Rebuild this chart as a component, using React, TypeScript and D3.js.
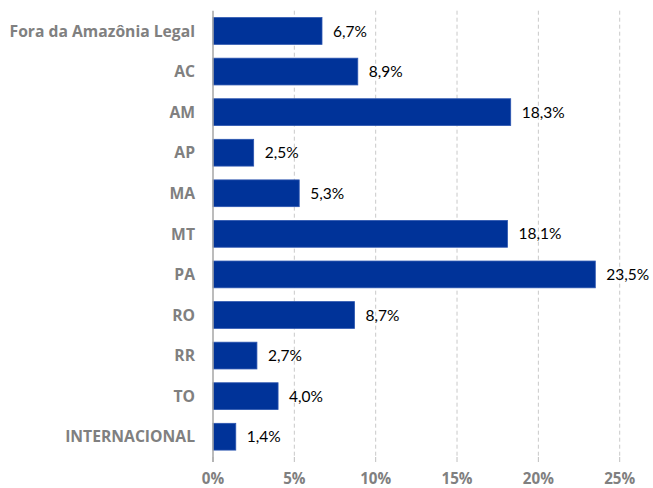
import React from "react";
import * as d3 from "d3";

const categories = ["Fora da Amazônia Legal", "AC", "AM", "AP", "MA", "MT", "PA", "RO", "RR", "TO", "INTERNACIONAL"];
const values = [6.7, 8.9, 18.3, 2.5, 5.3, 18.1, 23.5, 8.7, 2.7, 4.0, 1.4];
const ticks = [0, 5, 10, 15, 20, 25];

const W = 653, H = 488;
const left = 213, right = 619.7, top = 10.7, bottom = 457;

export default function App() {
  const x = d3.scaleLinear().domain([0, 25]).range([left, right]);
  const y = d3.scaleBand().domain(categories).range([top, bottom]).paddingInner(0.34).paddingOuter(0.17);
  const fmt = (v: number) => v.toFixed(1).replace(".", ",") + "%";
  const font = "Lato, 'Open Sans', sans-serif";
  const bfont = "'Open Sans', Lato, sans-serif";
  return (
    <svg width={W} height={H} style={{ position: "absolute", left: 0, top: 0, background: "#fff" }}>
      {ticks.slice(1).map((t) => (
        <line key={t} x1={x(t)} x2={x(t)} y1={top} y2={bottom} stroke="#c9c9c9" strokeWidth={1} strokeDasharray="4,3" />
      ))}
      {ticks.map((t) => (
        <line key={"tk" + t} x1={x(t)} x2={x(t)} y1={bottom} y2={bottom + 5} stroke="#bfbfbf" strokeWidth={1} />
      ))}
      {categories.map((c, i) => (
        <g key={c}>
          <rect x={x(0)} y={y(c)!} width={x(values[i]) - x(0)} height={y.bandwidth()} fill="#003399" stroke="#2b55b0" strokeWidth={0.8} />
          <text x={x(values[i]) + 11} y={y(c)! + y.bandwidth() / 2} dy="0.36em" fontFamily={font} fontSize={15.5} fill="#000">
            {fmt(values[i])}
          </text>
          <text x={195} y={y(c)! + y.bandwidth() / 2} dy="0.36em" textAnchor="end" fontFamily={bfont} fontWeight="bold" fontSize={15.7} fill="#808080">
            {c}
          </text>
        </g>
      ))}
      <line x1={left} x2={left} y1={top} y2={bottom + 5} stroke="#a6a6a6" strokeWidth={1.5} />
      {ticks.map((t) => (
        <text key={"l" + t} x={x(t)} y={483.5} textAnchor="middle" fontFamily={bfont} fontWeight="bold" fontSize={15.2} fill="#808080">
          {t + "%"}
        </text>
      ))}
    </svg>
  );
}
